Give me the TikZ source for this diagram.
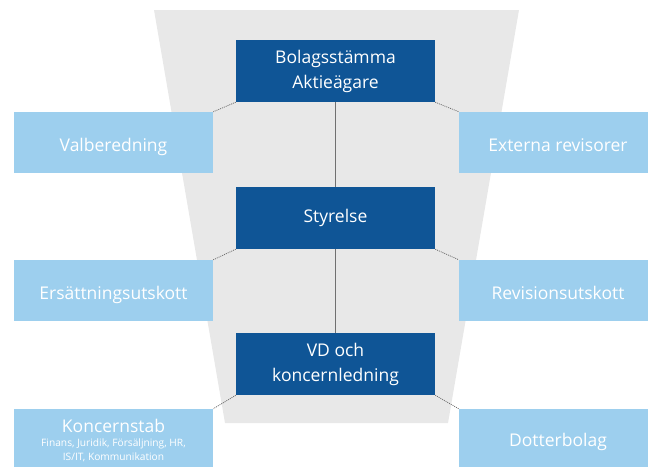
\documentclass[tikz,border=0pt]{standalone}
\usepackage{fontspec}
\setmainfont{Open Sans}
\definecolor{darkbox}{HTML}{0F5596}
\definecolor{lightbox}{HTML}{9DCFEE}
\definecolor{funnel}{HTML}{E8E8E8}
\definecolor{linegray}{HTML}{707070}
\begin{document}
\begin{tikzpicture}[x=1pt,y=-1pt,
  mainbox/.style={fill=darkbox,text=white,inner sep=0pt,align=center,font=\fontsize{17.5}{25}\selectfont},
  sidebox/.style={fill=lightbox,text=white,inner sep=0pt,align=center,text height=17pt,text depth=0pt,font=\fontsize{17.5}{25}\selectfont},
  link/.style={draw=linegray,line width=0.8pt,dash pattern=on 1pt off 1pt},
  spine/.style={draw=linegray,line width=1.4pt}]
\useasboundingbox (0,0) rectangle (648,466);
% background funnel
\fill[funnel] (154,10) -- (519,10) -- (448,423) -- (225,423) -- cycle;
% central chain
\node[mainbox,minimum width=199pt,minimum height=62pt] (gm) at (335.5,71) {Bolagsstämma\\Aktieägare};
\node[mainbox,minimum width=199pt,minimum height=62pt] (board) at (335.5,218) {Styrelse};
\node[mainbox,minimum width=199pt,minimum height=62pt] (ceo) at (335.5,364) {VD och\\koncernledning};
% side boxes (right-hand boxes run past the page edge)
\node[sidebox,minimum width=199pt,minimum height=61pt] (nom) at (113.5,142.5) {Valberedning};
\node[sidebox,minimum width=198pt,minimum height=61pt] (audit) at (558,142.5) {Externa revisorer};
\node[sidebox,minimum width=199pt,minimum height=61pt] (rem) at (113.5,290.5) {Ersättningsutskott};
\node[sidebox,minimum width=198pt,minimum height=61pt] (revc) at (558,290.5) {Revisionsutskott};
\node[fill=lightbox,inner sep=0pt,minimum width=199pt,minimum height=58pt] (staff) at (113.5,438) {};
\node[text=white,align=center,inner sep=0pt,font=\fontsize{17.5}{20}\selectfont] (stafft) at (113.5,426) {Koncernstab};
\node[text=white,align=center,inner sep=0pt,font=\fontsize{10.2}{14}\selectfont] (staffs) at (113.5,450) {Finans, Juridik, Försäljning, HR,\\IS/IT, Kommunikation};
\node[sidebox,minimum width=198pt,minimum height=58pt] (subs) at (558,438) {Dotterbolag};
% connectors
\draw[spine] (gm.south) -- (board.north);
\draw[spine] (board.south) -- (ceo.north);
\draw[link] (gm.south west) -- (nom.north east);
\draw[link] (gm.south east) -- (audit.north west);
\draw[link] (board.south west) -- (rem.north east);
\draw[link] (board.south east) -- (revc.north west);
\draw[link] (ceo.south west) -- (staff.north east);
\draw[link] (ceo.south east) -- (subs.north west);
\end{tikzpicture}
\end{document}
